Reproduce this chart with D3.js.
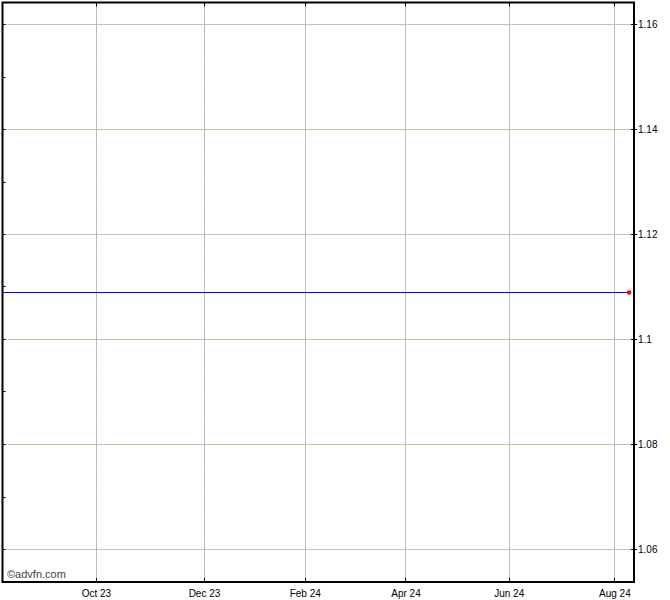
<!DOCTYPE html>
<html>
<head>
<meta charset="utf-8">
<script src="https://cdn.jsdelivr.net/npm/d3@7/dist/d3.min.js"></script>
<style>
  html, body { margin: 0; padding: 0; background: #fff; }
  svg { display: block; }
  text { font-family: "Liberation Sans", Arial, sans-serif; }
</style>
</head>
<body>
<svg id="chart" width="670" height="600"></svg>
<script>
// ---- data (x = trading-day index, Aug 2023 .. Aug 2024) ----
const tickLabels = ["Oct 23", "Dec 23", "Feb 24", "Apr 24", "Jun 24", "Aug 24"];
const tickDays   = [38, 82, 123, 164, 206, 249];
const priceDays  = [0, 255];
const prices     = [1.109, 1.109];
const yTickValues = [1.16, 1.14, 1.12, 1.10, 1.08, 1.06];
const yTickLabels = ["1.16", "1.14", "1.12", "1.1", "1.08", "1.06"];
const yMinorTicks = [1.16, 1.15, 1.14, 1.13, 1.12, 1.11, 1.10, 1.09, 1.08, 1.07, 1.06];

const L = 2.5, T = 2.5, R = 634, B = 582;
const svg = d3.select("#chart");

const x = d3.scaleLinear().domain([0, 257]).range([L, R]);
const y = d3.scaleLinear()
  .domain([1.16 + (24 - T) / 5250, 1.06 - (B - 549) / 5250])
  .range([T, B]);

// horizontal grid (gray/yellow dotted)
const hg = svg.append("g");
yTickValues.forEach(v => {
  const yy = Math.round(y(v)) + 0.5;
  hg.append("line").attr("x1", L).attr("x2", R).attr("y1", yy).attr("y2", yy)
    .attr("stroke", "#b4b4b4").attr("stroke-width", 1);
  hg.append("line").attr("x1", L).attr("x2", R).attr("y1", yy).attr("y2", yy)
    .attr("stroke", "#d6d68a").attr("stroke-width", 1).attr("stroke-dasharray", "2 2");
});

// vertical grid
const vg = svg.append("g");
tickDays.forEach(d => {
  const xx = Math.round(x(d)) + 0.5;
  vg.append("line").attr("x1", xx).attr("x2", xx).attr("y1", T).attr("y2", B)
    .attr("stroke", "#b0b0b0").attr("stroke-width", 1);
  vg.append("line").attr("x1", xx).attr("x2", xx).attr("y1", T).attr("y2", B)
    .attr("stroke", "#d0d0d0").attr("stroke-width", 1).attr("stroke-dasharray", "1 2");
});

// price line
const series = priceDays.map((d, i) => ({ d, v: prices[i] }));
svg.append("path").datum(series)
  .attr("fill", "none").attr("stroke", "#0000ff").attr("stroke-width", 1)
  .attr("d", d3.line().x(p => x(p.d)).y(p => Math.round(y(p.v)) + 0.5));

// last point marker
const last = series[series.length - 1];
svg.append("circle").attr("cx", x(last.d)).attr("cy", Math.round(y(last.v)) + 0.5)
  .attr("r", 2.3).attr("fill", "#ff0000");

// frame
svg.append("rect").attr("x", L).attr("y", T).attr("width", R - L).attr("height", B - T)
  .attr("fill", "none").attr("stroke", "#000").attr("stroke-width", 2);

// left minor ticks
yMinorTicks.forEach(v => {
  const yy = Math.round(y(v)) + 0.5;
  svg.append("line").attr("x1", L).attr("x2", L + 3).attr("y1", yy).attr("y2", yy)
    .attr("stroke", "#000").attr("stroke-width", 1);
});

// right axis (D3 axis)
const yAxis = d3.axisRight(y).tickValues(yTickValues)
  .tickFormat((d, i) => yTickLabels[i]).tickSize(3).tickPadding(1);
const ga = svg.append("g").attr("transform", `translate(${R},0)`).call(yAxis);
ga.select(".domain").remove();
ga.selectAll(".tick line").attr("x1", -3).attr("stroke", "#000");
ga.selectAll(".tick text").attr("font-size", "10px").attr("fill", "#000")
  .attr("font-family", "'Liberation Sans', Arial, sans-serif");

// bottom axis (D3 axis)
const xAxis = d3.axisBottom(x).tickValues(tickDays)
  .tickFormat((d, i) => tickLabels[i]).tickSize(0).tickPadding(8);
const gb = svg.append("g").attr("transform", `translate(0,${B})`).call(xAxis);
gb.select(".domain").remove();
gb.selectAll(".tick text").attr("font-size", "10px").attr("fill", "#000")
  .attr("font-family", "'Liberation Sans', Arial, sans-serif");

// top/bottom small ticks
tickDays.forEach(d => {
  const xx = Math.round(x(d)) + 0.5;
  svg.append("line").attr("x1", xx).attr("x2", xx).attr("y1", T).attr("y2", T + 4)
    .attr("stroke", "#000").attr("stroke-width", 1);
  svg.append("line").attr("x1", xx).attr("x2", xx).attr("y1", B - 4).attr("y2", B)
    .attr("stroke", "#000").attr("stroke-width", 1);
});

// watermark
svg.append("text").attr("x", 7).attr("y", 578)
  .attr("font-size", "11px").attr("fill", "#444").text("©advfn.com");
</script>
</body>
</html>
